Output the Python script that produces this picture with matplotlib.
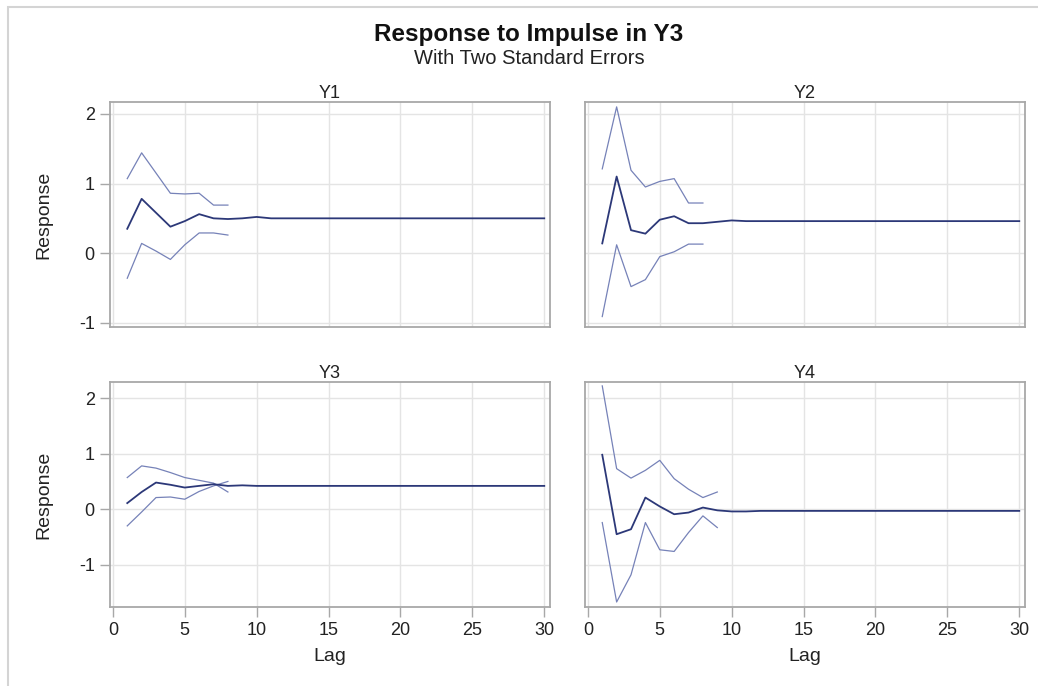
import matplotlib.pyplot as plt
from matplotlib.patches import Rectangle

plt.rcParams['font.family'] = ['Liberation Sans', 'DejaVu Sans']
plt.rcParams['axes.unicode_minus'] = False

# Lags and impulse responses
lags = list(range(1, 31))
band_lags = [1, 2, 3, 4, 5, 6, 7, 8]
band_lags_y4 = [1, 2, 3, 4, 5, 6, 7, 8, 9]

y1_resp = [0.35, 0.78, 0.58, 0.38, 0.46, 0.56, 0.50, 0.49, 0.50, 0.52,
           0.50, 0.50, 0.50, 0.50, 0.50, 0.50, 0.50, 0.50, 0.50, 0.50,
           0.50, 0.50, 0.50, 0.50, 0.50, 0.50, 0.50, 0.50, 0.50, 0.50]
y1_upper = [1.07, 1.44, 1.15, 0.86, 0.85, 0.86, 0.69, 0.69]
y1_lower = [-0.36, 0.14, 0.03, -0.09, 0.12, 0.29, 0.29, 0.26]

y2_resp = [0.14, 1.10, 0.33, 0.28, 0.48, 0.53, 0.43, 0.43, 0.45, 0.47,
           0.46, 0.46, 0.46, 0.46, 0.46, 0.46, 0.46, 0.46, 0.46, 0.46,
           0.46, 0.46, 0.46, 0.46, 0.46, 0.46, 0.46, 0.46, 0.46, 0.46]
y2_upper = [1.21, 2.10, 1.19, 0.95, 1.03, 1.07, 0.72, 0.72]
y2_lower = [-0.91, 0.12, -0.48, -0.38, -0.05, 0.02, 0.13, 0.13]

y3_resp = [0.11, 0.31, 0.48, 0.44, 0.39, 0.42, 0.45, 0.42, 0.43, 0.42,
           0.42, 0.42, 0.42, 0.42, 0.42, 0.42, 0.42, 0.42, 0.42, 0.42,
           0.42, 0.42, 0.42, 0.42, 0.42, 0.42, 0.42, 0.42, 0.42, 0.42]
y3_upper = [0.57, 0.78, 0.74, 0.66, 0.57, 0.52, 0.47, 0.31]
y3_lower = [-0.30, -0.05, 0.21, 0.22, 0.18, 0.32, 0.42, 0.50]

y4_resp = [0.98, -0.45, -0.36, 0.21, 0.05, -0.09, -0.06, 0.03, -0.02, -0.04,
           -0.04, -0.03, -0.03, -0.03, -0.03, -0.03, -0.03, -0.03, -0.03, -0.03,
           -0.03, -0.03, -0.03, -0.03, -0.03, -0.03, -0.03, -0.03, -0.03, -0.03]
y4_upper = [2.22, 0.73, 0.56, 0.70, 0.88, 0.55, 0.36, 0.21, 0.31]
y4_lower = [-0.24, -1.67, -1.18, -0.24, -0.73, -0.76, -0.42, -0.12, -0.33]

panels = [
    ('Y1', y1_resp, band_lags, y1_upper, y1_lower),
    ('Y2', y2_resp, band_lags, y2_upper, y2_lower),
    ('Y3', y3_resp, band_lags, y3_upper, y3_lower),
    ('Y4', y4_resp, band_lags_y4, y4_upper, y4_lower),
]

W, H = 1038, 686
fig = plt.figure(figsize=(W / 100, H / 100), dpi=100)

# light frame around the graph
fig.patches.append(Rectangle((8 / W, -0.01), 1.02, 1 - 7 / H + 0.01, transform=fig.transFigure,
                             fill=False, edgecolor='#d4d4d4', linewidth=1.5))

col_left = [110, 585]
row_top = [102, 382]
ax_w, ax_h = 440, 225
ylims = [(-1.06, 2.17), (-1.76, 2.29)]

main_color = '#2c3878'
band_color = '#7682b8'

for i, (name, resp, blags, upper, lower) in enumerate(panels):
    r, c = divmod(i, 2)
    ax = fig.add_axes([col_left[c] / W, 1 - (row_top[r] + ax_h) / H, ax_w / W, ax_h / H])
    ax.plot(blags, upper, color=band_color, linewidth=0.9)
    ax.plot(blags, lower, color=band_color, linewidth=0.9)
    ax.plot(lags, resp, color=main_color, linewidth=1.3)

    ax.set_xlim(-0.2, 30.4)
    ax.set_ylim(*ylims[r])
    ax.set_xticks([0, 5, 10, 15, 20, 25, 30])
    ax.set_yticks([-1, 0, 1, 2])
    ax.grid(True, color='#e4e4e4', linewidth=1.0)
    ax.set_axisbelow(True)
    for s in ax.spines.values():
        s.set_color('#a8a8a8')
        s.set_linewidth(1.3)
    ax.tick_params(colors='#a8a8a8', labelcolor='#222222', labelsize=13,
                   length=7, width=1.0, pad=4)
    if c == 1:
        ax.tick_params(axis='y', left=False, labelleft=False)
    else:
        ax.set_ylabel('Response', fontsize=14, color='#222222', labelpad=19)
    if r == 0:
        ax.tick_params(axis='x', bottom=False, labelbottom=False)
    else:
        ax.set_xlabel('Lag', fontsize=14, color='#222222', labelpad=6)
    ax.set_title(name, fontsize=13, color='#222222', pad=3)

fig.text(529 / W, 1 - 35 / H, 'Response to Impulse in Y3', ha='center', va='center',
         fontsize=17.5, fontweight='bold', color='#111111')
fig.text(529 / W, 1 - 58 / H, 'With Two Standard Errors', ha='center', va='center',
         fontsize=14.5, color='#222222')

fig.savefig('out.png', dpi=100, facecolor='white')
